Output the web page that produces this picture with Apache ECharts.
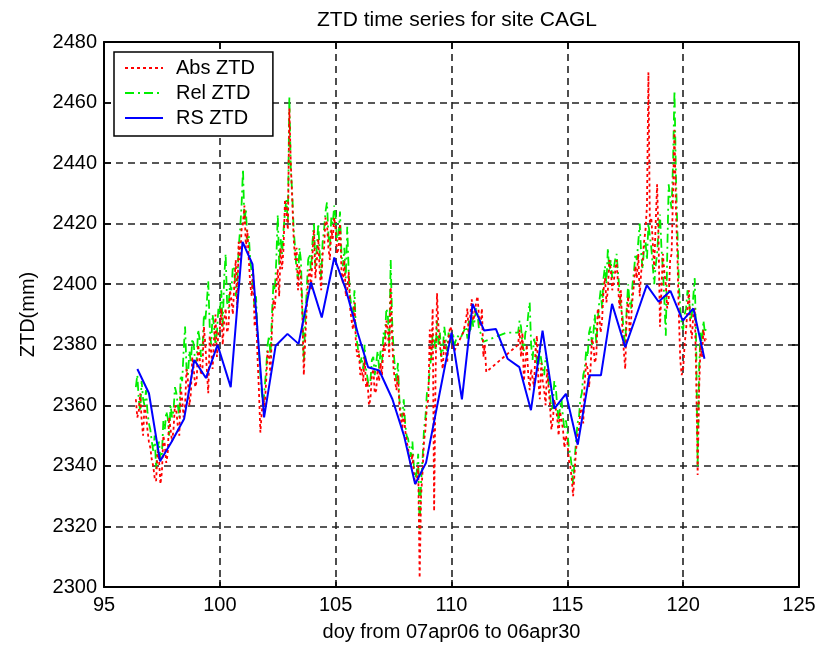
<!DOCTYPE html>
<html>
<head>
<meta charset="utf-8">
<script src="https://cdn.jsdelivr.net/npm/echarts@6/dist/echarts.min.js"></script>
<style>
  html, body { margin: 0; padding: 0; background: #fff; }
  #chart { width: 830px; height: 647px; }
</style>
</head>
<body>
<div id="chart"></div>
<script>
// GPS solutions every 1.5 h from doy 96.375 (null = no solution)
var gpsStart = 96.375;
var gpsStep = 0.0625;
var absZtd = [
  2362, 2356, 2358, 2364, 2355, 2350, 2360, 2357, 2352, 2348,
  2346, 2342, 2340, 2336, 2335, 2345, 2342, 2334, 2338, 2350, 2347, 2341, 2344, 2356, 2352, 2348,
  2352, 2360, 2358, 2353, 2350, 2366, 2362, 2356, 2360, 2372, 2368, 2360, 2364, 2376, 2372, 2366,
  2368, 2380, 2376, 2370, 2372, 2386, 2380, 2372, 2364, 2383, 2378, 2372, 2382, 2390, 2376, 2384,
  2385, 2392, 2380, 2388, 2392, 2384, 2386, 2398, 2395, 2390, 2400, 2408, 2392, 2414, 2408, 2418,
  2420, 2426, 2412, 2418, 2408, 2400, 2396, 2405, 2386, 2392, 2376, 2365, 2351, 2358, 2362, 2360,
  2368, 2378, 2376, 2370, 2385, 2395, 2392, 2400, 2405, 2396, 2412, 2405, 2412, 2428, 2424, 2418,
  2458, 2440, 2428, 2415, 2408, 2412, 2398, 2406, 2402, 2390, 2370, 2382, 2392, 2402, 2405, 2398,
  2410, 2418, 2402, 2408, 2415, 2404, 2398, 2410, 2412, 2422, 2420, 2412, 2408, 2418, 2415, 2422,
  2418, 2410, 2412, 2420, 2405, 2400, 2408, 2396, 2398, 2404, 2392, 2388, 2385, 2394, 2380, 2376,
  2378, 2370, 2372, 2368, 2376, 2366, 2368, 2360, 2362, 2370, 2372, 2364, 2365, 2372, 2368, 2374,
  2370, 2380, 2378, 2388, 2385, 2376, 2399, 2382, 2372, 2368, 2365, 2370, 2360, 2356, 2352, 2358,
  2352, 2348, 2346, 2342, 2340, 2344, 2337, 2334, 2335, 2340, 2303, 2330, 2338, 2348, 2352, 2360,
  2362, 2385, 2375, 2392, 2325, 2370, 2397, 2386, 2380, 2375, 2372, 2382, 2378, 2374, 2382, 2386,
  2385, 2379, 2378, null, 2380, null, 2382, null, 2384, null, 2388, 2392, 2382, 2390, 2395, 2388,
  2390, 2394, 2396, 2389, 2386, 2392, 2376, 2380, 2371, null, null, null, null, null, null, null,
  null, null, null, null, null, null, null, null, null, null, null, null, null, null, 2380, 2385,
  2376, 2384, 2368, 2374, 2380, 2370, 2365, 2372, 2372, 2366, 2378, 2383, 2368, 2362, 2374, 2368,
  2365, 2360, 2372, 2366, 2360, 2352, 2355, 2362, 2362, 2356, 2350, 2358, 2358, 2352, 2346, 2350,
  2348, 2342, 2340, 2336, 2330, 2338, 2345, 2350, 2352, 2358, 2360, 2354, 2368, 2374, 2372, 2366,
  2372, 2382, 2380, 2374, 2376, 2392, 2390, 2384, 2388, 2398, 2402, 2394, 2398, 2408, 2405, 2398,
  2398, 2404, 2408, 2400, 2392, 2398, 2385, 2378, 2372, 2390, 2396, 2384, 2388, 2395, 2400, 2406,
  2402, 2410, 2396, 2404, 2408, 2414, 2418, 2426, 2470, 2420, 2422, 2414, 2405, 2420, 2433, 2415,
  2386, 2398, 2410, 2404, 2400, 2392, 2395, 2408, 2410, 2430, 2451, 2425, 2410, 2390, 2375, 2370,
  2372, 2380, 2385, 2392, 2398, 2386, 2382, 2390, 2392, 2370, 2337, 2365, 2380, 2376, 2385, 2381,
  2382
];
var relZtd = [
  2366, 2370, 2362, 2358, 2368, 2362, 2360, 2365, 2358, 2354,
  2352, 2348, 2345, 2350, 2339, 2346, 2348, 2342, 2344, 2355, 2352, 2358, 2356, 2350, 2360, 2356,
  2358, 2366, 2364, 2360, 2356, 2370, 2368, 2378, 2386, 2372, 2370, 2378, 2374, 2382, 2380, 2374,
  2375, 2385, 2382, 2376, 2378, 2390, 2388, 2394, 2401, 2386, 2380, 2390, 2386, 2380, 2384, 2392,
  2390, 2398, 2386, 2402, 2410, 2394, 2392, 2400, 2398, 2406, 2405, 2396, 2400, 2412, 2418, 2426,
  2438, 2420, 2425, 2414, 2416, 2408, 2404, 2398, 2392, 2396, 2384, 2378, 2370, 2364, 2360, 2366,
  2372, 2380, 2383, 2376, 2390, 2400, 2398, 2408, 2423, 2406, 2415, 2410, 2418, 2424, 2428, 2420,
  2462, 2438, 2430, 2418, 2412, 2404, 2402, 2412, 2408, 2392, 2374, 2388, 2398, 2408, 2410, 2404,
  2414, 2420, 2406, 2412, 2420, 2410, 2402, 2414, 2418, 2424, 2427, 2416, 2412, 2422, 2420, 2426,
  2422, 2414, 2416, 2424, 2410, 2406, 2412, 2402, 2419, 2404, 2396, 2392, 2390, 2398, 2384, 2380,
  2380, 2374, 2376, 2372, 2380, 2372, 2372, 2366, 2368, 2375, 2376, 2370, 2370, 2378, 2372, 2378,
  2374, 2384, 2382, 2392, 2390, 2380, 2408, 2388, 2378, 2372, 2368, 2374, 2362, 2358, 2356, 2362,
  2354, 2350, 2349, 2346, 2343, 2348, 2340, 2336, 2338, 2344, 2319, 2335, 2342, 2352, 2356, 2364,
  2366, 2372, 2376, 2384, 2382, 2378, 2388, 2380, 2384, 2376, 2378, 2386, 2382, 2378, 2384, 2380,
  2381, 2384, 2380, null, 2383, null, 2382, null, 2384, null, 2386, 2382, 2388, 2384, 2390, 2386,
  2388, 2392, 2390, 2385, 2384, 2382, 2381, null, null, null, null, null, null, null, null, null,
  null, null, null, null, null, null, 2384, null, null, null, null, null, null, null, 2384, 2388,
  2386, 2380, 2378, 2384, 2385, 2390, 2394, 2380, 2375, 2382, 2380, 2374, 2372, 2378, 2378, 2372,
  2370, 2376, 2375, 2368, 2364, 2358, 2360, 2368, 2366, 2360, 2354, 2360, 2362, 2356, 2352, 2355,
  2352, 2346, 2344, 2340, 2334, 2342, 2348, 2354, 2356, 2362, 2364, 2370, 2372, 2378, 2376, 2384,
  2386, 2380, 2384, 2390, 2380, 2388, 2394, 2398, 2392, 2402, 2406, 2400, 2412, 2404, 2408, 2402,
  2402, 2408, 2410, 2404, 2398, 2392, 2390, 2384, 2380, 2392, 2400, 2394, 2392, 2400, 2404, 2410,
  2408, 2414, 2420, 2410, 2405, 2412, 2414, 2408, 2420, 2416, 2412, 2406, 2400, 2406, 2410, 2418,
  2423, 2412, 2405, 2395, 2383, 2410, 2433, 2428, 2425, 2440, 2464, 2436, 2418, 2400, 2392, 2386,
  2385, 2390, 2392, 2398, 2396, 2388, 2390, 2396, 2402, 2380, 2340, 2372, 2384, 2380, 2388, 2384,
  2386
];
// radiosonde launches
var rsDoy = [96.44, 96.94, 97.42, 97.92, 98.46, 98.9, 99.4, 99.9, 100.47, 100.98,
  101.41, 101.91, 102.41, 102.92, 103.4, 103.93, 104.4, 104.94, 105.45, 105.95,
  106.4, 106.88, 107.45, 107.95, 108.43, 108.9, 109.45, 110.0, 110.45, 110.91,
  111.41, 111.92, 112.42, 112.93, 113.43, 113.93, 114.44, 114.94, 115.45, 115.95,
  116.45, 116.93, 117.5, 117.95, 118.43, 118.94, 119.45, 119.98, 120.44, 120.92];
var rsZtd = [2372, 2364, 2341.5, 2348, 2355.6, 2375, 2369, 2380, 2366, 2414,
  2406.6, 2356, 2379.7, 2383.6, 2380.3, 2400.6, 2389, 2408.8, 2398, 2384,
  2372.6, 2371.5, 2362, 2350, 2334, 2341, 2362.5, 2384, 2362, 2393.5,
  2384.7, 2385.2, 2375.4, 2372.6, 2358.4, 2384.7, 2358.9, 2363.8, 2347, 2369.9,
  2369.9, 2393.5, 2379.2, 2389, 2399.7, 2394.2, 2397.8, 2388, 2392, 2375.4];

var xTicks = { min: 95, max: 125, interval: 5 };
var yTicks = { min: 2300, max: 2480, interval: 20 };

function gpsPairs(vals) {
  return vals.map(function (v, i) {
    return [gpsStart + i * gpsStep, v];
  });
}

var font = "Liberation Sans, Arial, sans-serif";
var frame = { show: true, onZero: false, lineStyle: { color: "#000", width: 2 } };
var tick = { show: true, inside: true, length: 7, lineStyle: { color: "#000", width: 1.5 } };
var grid = { show: true, lineStyle: { color: "#222", width: 1.6, type: [7, 5] } };

var chart = echarts.init(document.getElementById("chart"));
chart.setOption({
  backgroundColor: "#fff",
  animation: false,
  title: {
    text: "ZTD time series for site CAGL",
    left: 452,
    textAlign: "center",
    top: 5,
    textStyle: { fontFamily: font, fontSize: 21, fontWeight: "normal", color: "#000" }
  },
  grid: { left: 104, right: 31, top: 42, bottom: 58, containLabel: false },
  legend: {
    orient: "vertical",
    left: 114,
    top: 52,
    itemWidth: 38,
    itemHeight: 14,
    itemGap: 5,
    padding: [6, 18, 8, 10],
    borderColor: "#000",
    borderWidth: 1.5,
    backgroundColor: "#fff",
    itemStyle: { opacity: 0 },
    textStyle: { fontFamily: font, fontSize: 20, color: "#000", lineHeight: 20, padding: [0, 0, 0, 8] },
    data: ["Abs ZTD", "Rel ZTD", "RS ZTD"]
  },
  xAxis: [
    {
      type: "value", min: xTicks.min, max: xTicks.max, interval: xTicks.interval,
      name: "doy from 07apr06 to 06apr30", nameLocation: "middle", nameGap: 35,
      nameTextStyle: { fontFamily: font, fontSize: 20, color: "#000" },
      axisLine: frame, axisTick: tick, splitLine: grid,
      axisLabel: { fontFamily: font, fontSize: 20, color: "#000", margin: 8 }
    },
    {
      type: "value", position: "top", min: xTicks.min, max: xTicks.max, interval: xTicks.interval,
      axisLine: frame, axisTick: tick, splitLine: { show: false }, axisLabel: { show: false }
    }
  ],
  yAxis: [
    {
      type: "value", min: yTicks.min, max: yTicks.max, interval: yTicks.interval,
      name: "ZTD(mm)", nameLocation: "middle", nameGap: 66,
      nameTextStyle: { fontFamily: font, fontSize: 20, color: "#000" },
      axisLine: frame, axisTick: tick, splitLine: grid,
      axisLabel: {
        fontFamily: font, fontSize: 20, color: "#000", margin: 7,
        formatter: function (v) { return String(v); }
      }
    },
    {
      type: "value", position: "right", min: yTicks.min, max: yTicks.max, interval: yTicks.interval,
      axisLine: frame, axisTick: tick, splitLine: { show: false }, axisLabel: { show: false }
    }
  ],
  series: [
    {
      name: "Abs ZTD", type: "line", symbol: "none", connectNulls: true,
      color: "#ff0000",
      lineStyle: { color: "#ff0000", width: 1.8, type: [3, 3] },
      data: gpsPairs(absZtd), z: 3
    },
    {
      name: "Rel ZTD", type: "line", symbol: "none", connectNulls: true,
      color: "#00ee00",
      lineStyle: { color: "#00ee00", width: 1.8, type: [9, 4, 2, 4] },
      data: gpsPairs(relZtd), z: 2
    },
    {
      name: "RS ZTD", type: "line", symbol: "none",
      color: "#0000ff",
      lineStyle: { color: "#0000ff", width: 2 },
      data: rsDoy.map(function (d, i) { return [d, rsZtd[i]]; }), z: 4
    }
  ]
});
</script>
</body>
</html>
